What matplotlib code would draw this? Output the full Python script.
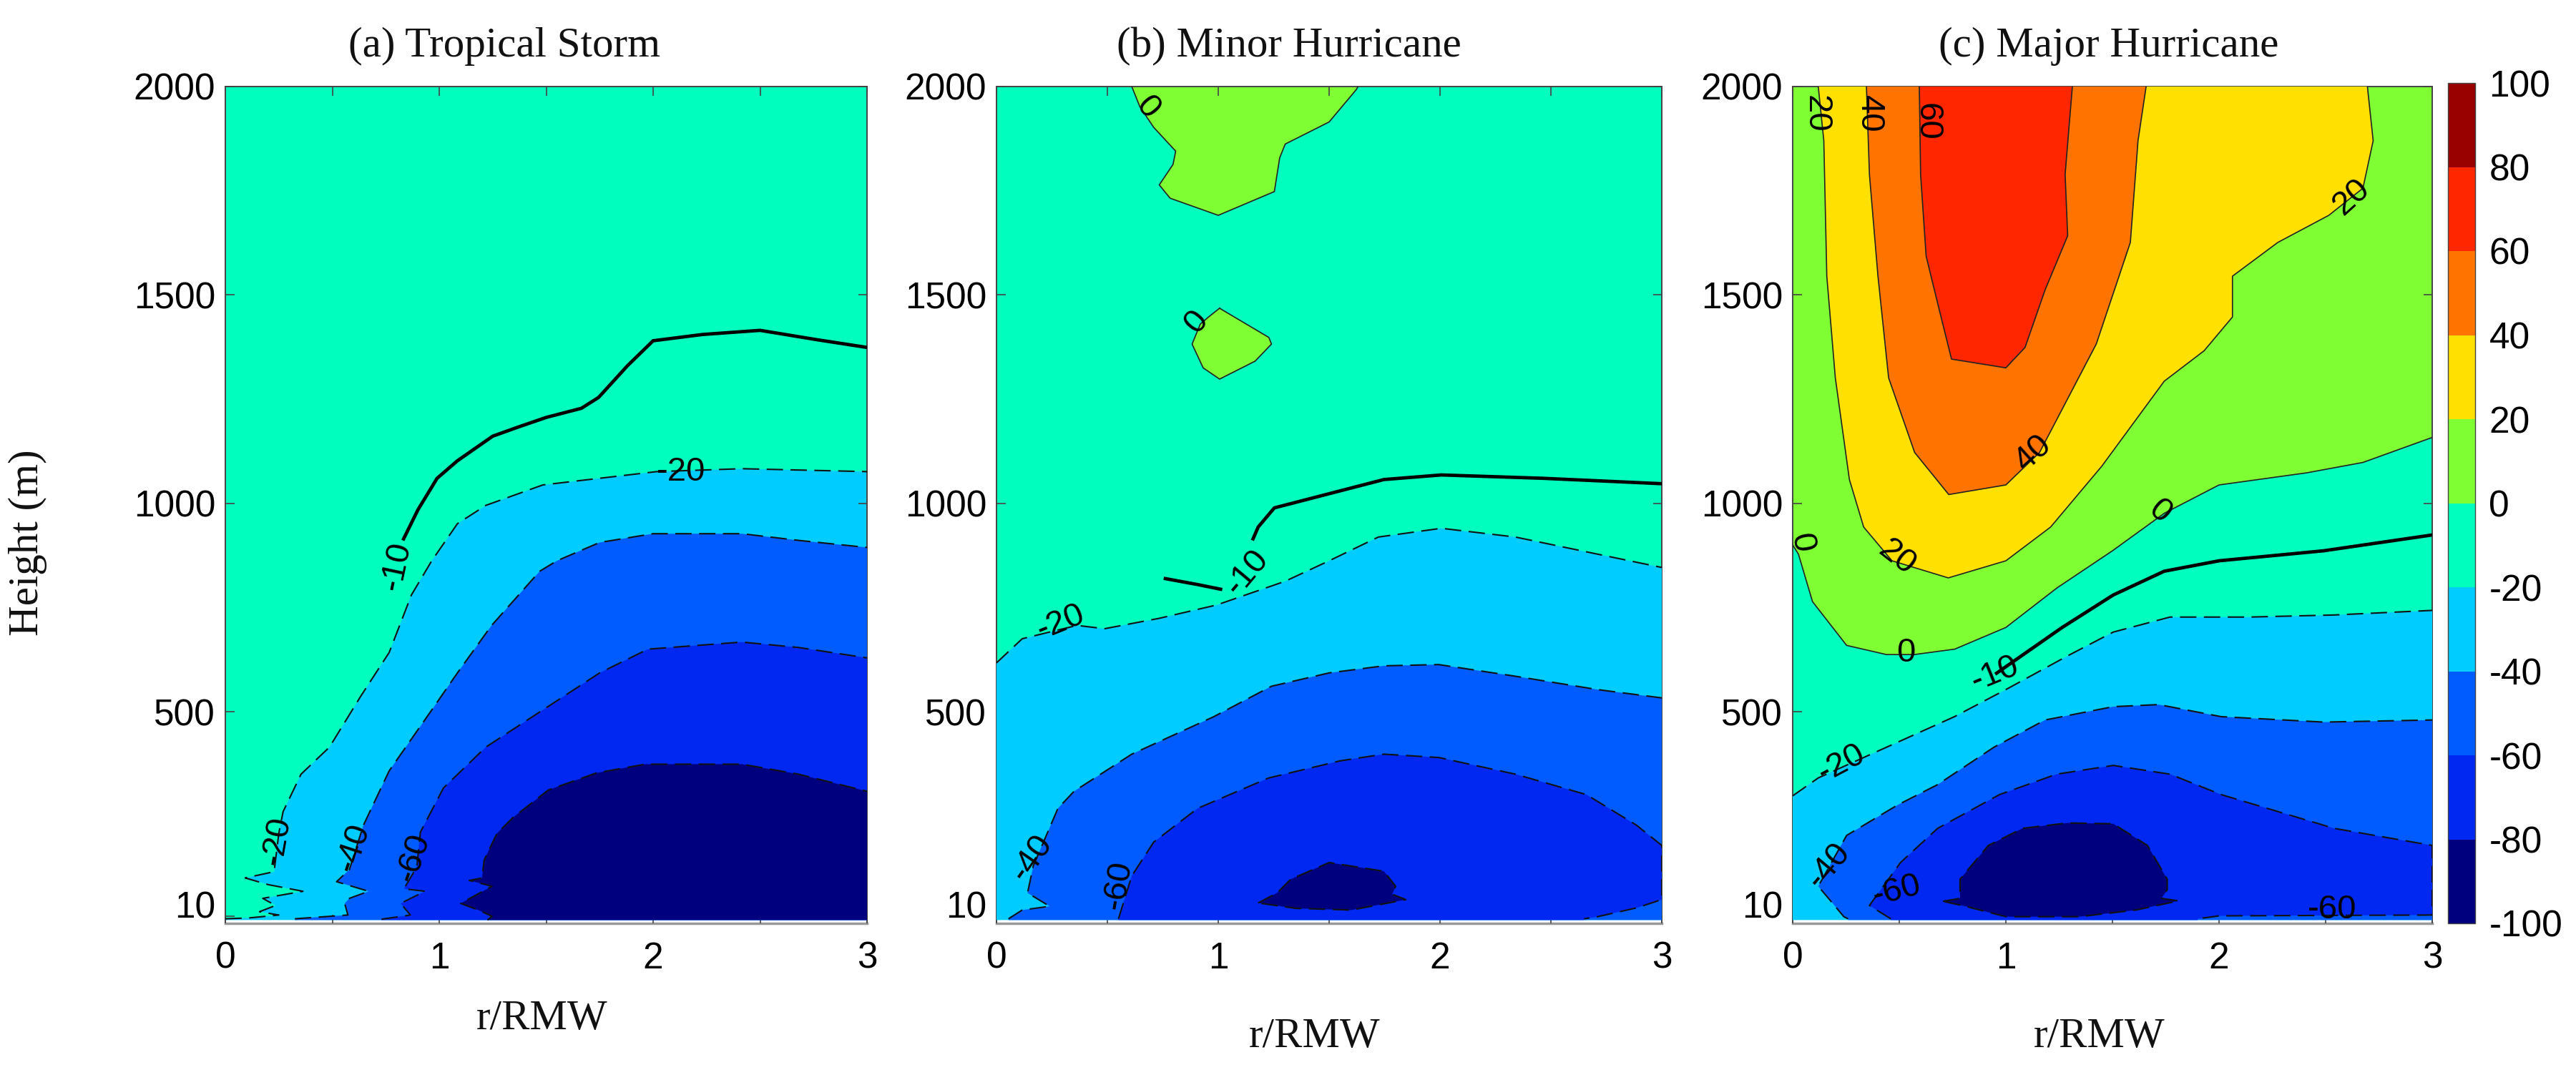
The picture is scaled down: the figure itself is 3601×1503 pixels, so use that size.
import numpy as np
import matplotlib
matplotlib.use("Agg")
import matplotlib.pyplot as plt
from matplotlib.colors import ListedColormap, BoundaryNorm
from matplotlib.cm import ScalarMappable
from matplotlib.transforms import ScaledTranslation

W, H = 3601, 1503
SERIF = "Liberation Serif"
SANS = "Liberation Sans"

levels = [-100, -80, -60, -40, -20, 0, 20, 40, 60, 80, 100]
colors = ["#00007F", "#0028F0", "#005CFF", "#00CCFF", "#00FFBF",
          "#7FFF33", "#FFE000", "#FF7300", "#FF2600", "#990000"]
lev_color = {lo: c for lo, c in zip(levels[:-1], colors)}

titles = ["(a) Tropical Storm", "(b) Minor Hurricane", "(c) Major Hurricane"]
y_ticks = [10, 500, 1000, 1500, 2000]
x_major = [0, 1, 2, 3]
x_minor = [0.5, 1.5, 2.5]

# ---------- panel (a) contours: r/RMW, height ----------
a_m10_r = [.83, .90, .99, 1.085, 1.25, 1.364, 1.5, 1.665, 1.745, 1.88, 2.0, 2.23, 2.5, 2.76, 3.0]
a_m10_h = [911, 984, 1060, 1102, 1161, 1182, 1206, 1228, 1254, 1330, 1390, 1405, 1415, 1393, 1374]
a_m20_r = [0, .11, .25, .16, .235, .175, .363, .2, .093, .228, .25, .27, .354, .487, .633, .766, .87, .965, 1.085, 1.218, 1.484, 1.75, 2.016, 2.415, 3]
a_m20_h = [3, 5, 12, 20, 35, 52, 69, 85, 101, 116, 208, 260, 350, 415, 537, 642, 780, 862, 951, 995, 1044, 1060, 1076, 1083, 1076]
a_m40_r = [.325, .573, .558, .58, .67, .52, .58, .646, .766, .965, 1.085, 1.245, 1.47, 1.55, 1.75, 2.0, 2.415, 2.68, 3]
a_m40_h = [3, 12, 40, 52, 69, 92, 121, 228, 358, 504, 593, 707, 837, 862, 906, 927, 927, 911, 894]
a_m60_r = [.73, .865, .82, .933, .835, .895, .912, 1.02, 1.218, 1.484, 1.75, 1.976, 2.415, 2.68, 3]
a_m60_h = [2, 12, 40, 69, 75, 127, 211, 317, 415, 504, 593, 650, 667, 654, 629]
a_m80_r = [1.225, 1.247, 1.187, 1.1, 1.247, 1.14, 1.2, 1.21, 1.27, 1.345, 1.51, 1.735, 1.963, 2.415, 2.68, 3]
a_m80_h = [0, 9, 23, 40, 81, 95, 101, 144, 208, 246, 312, 353, 374, 374, 350, 309]

# ---------- panel (b) contours ----------
b_0a_r = [.61, .647, .709, .808, .796, .734, .783, 1.0, 1.253, 1.277, 1.302, 1.5, 1.623, 1.63]
b_0a_h = [2000, 1951, 1902, 1845, 1813, 1764, 1732, 1691, 1748, 1829, 1862, 1915, 1993, 2000]
b_0b_r = [1.006, 1.228, 1.24, 1.166, 1.006, .932, .882, .919, .956, 1.006]
b_0b_h = [1468, 1398, 1382, 1341, 1298, 1325, 1382, 1430, 1447, 1468]
b_m10_r = [1.154, 1.18, 1.253, 1.747, 2.006, 2.463, 3]
b_m10_h = [911, 943, 989, 1057, 1068, 1060, 1047]
b_m10s_r = [.754, .907, 1.018]
b_m10s_h = [820, 805, 793]
b_m20_r = [0, .116, .363, .487, .734, .993, 1.302, 1.5, 1.722, 2.006, 2.34, 2.71, 3]
b_m20_h = [617, 675, 707, 699, 724, 756, 813, 862, 919, 940, 919, 878, 846]
b_m40_r = [.054, .116, .24, .14, .166, .277, .35, .61, .98, 1.24, 1.5, 1.747, 1.994, 2.34, 2.71, 3]
b_m40_h = [3, 24, 33, 65, 130, 268, 309, 398, 488, 561, 593, 610, 613, 585, 553, 533]
b_m60_r = [.55, .61, .709, .907, 1.228, 1.55, 1.747, 1.994, 2.34, 2.66, 2.885, 3, 3, 2.885, 2.71, 2.65]
b_m60_h = [3, 106, 187, 268, 341, 382, 398, 390, 350, 301, 228, 179, 49, 29, 8, 3]
b_m80_r = [1.18, 1.265, 1.327, 1.5, 1.747, 1.8, 1.784, 1.846, 1.6, 1.35, 1.18]
b_m80_h = [41, 65, 98, 138, 117, 81, 62, 49, 24, 28, 41]

# ---------- panel (c) contours ----------
c_0_r = [0, .027, .093, .253, .44, .57, .76, 1.0, 1.24, 1.5, 1.743, 2.0, 2.41, 2.675, 3]
c_0_h = [900, 878, 764, 659, 637, 637, 650, 702, 797, 886, 976, 1044, 1073, 1098, 1158]
c_20_r = [.12, .146, .16, .2, .266, .333, .466, .73, 1.0, 1.21, 1.45, 1.743, 1.93, 2.063, 2.063, 2.276, 2.515, 2.675, 2.723, 2.696]
c_20_h = [2000, 1870, 1545, 1301, 1057, 943, 862, 821, 862, 943, 1089, 1293, 1366, 1447, 1545, 1626, 1691, 1756, 1870, 2000]
c_40_r = [.346, .36, .4, .45, .572, .732, 1.0, 1.158, 1.424, 1.584, 1.62, 1.658]
c_40_h = [2000, 1789, 1545, 1301, 1122, 1021, 1044, 1122, 1382, 1626, 1870, 2000]
c_60_r = [.594, .6, .626, .68, .745, 1.0, 1.09, 1.184, 1.29, 1.278, 1.312]
c_60_h = [2000, 1789, 1593, 1480, 1346, 1325, 1374, 1512, 1642, 1789, 2000]
c_m10_r = [.95, 1.065, 1.264, 1.504, 1.743, 2.0, 2.49, 3]
c_m10_h = [590, 631, 702, 780, 837, 862, 886, 924]
c_m20_r = [0, .12, .333, .759, 1.0, 1.29, 1.504, 1.77, 2.143, 2.54, 3]
c_m20_h = [298, 341, 390, 488, 553, 634, 691, 727, 727, 732, 743]
c_m40_r = [.26, .24, .173, .12, .253, .492, .68, .945, 1.184, 1.504, 1.717, 2.01, 2.49, 3]
c_m40_h = [3, 8, 49, 81, 203, 276, 325, 415, 480, 512, 517, 488, 475, 480]
c_m60_r = [.46, .36, .506, .68, .97, 1.238, 1.504, 1.77, 2.01, 2.54, 3, 3, 2.0, 1.9]
c_m60_h = [3, 35, 138, 220, 301, 350, 371, 350, 301, 220, 179, 12, 10, 3]
c_m80_r = [.705, .785, .785, .918, 1.078, 1.29, 1.504, 1.664, 1.757, 1.757, 1.73, 1.81, 1.61, 1.344, 1.0, .81, .705]
c_m80_h = [45, 52, 98, 179, 220, 233, 231, 179, 98, 73, 52, 46, 24, 8, 8, 33, 45]

# contour labels: r, height, text, rotation
a_labels = [(.80, 850, "-10", 78), (2.13, 1075, "-20", 0), (.24, 190, "-20", 80),
            (.60, 175, "-40", 72), (.88, 150, "-60", 72)]
b_labels = [(.68, 1950, "0", -50), (.90, 1435, "0", 50), (1.13, 835, "-10", 50),
            (.29, 715, "-20", 22), (.16, 150, "-40", 55), (.55, 85, "-60", 80)]
c_labels = [(.11, 1935, "20", -90), (.36, 1935, "40", -90), (.63, 1915, "60", -90),
            (1.13, 1120, "40", 42), (2.62, 1735, "20", 42), (1.72, 980, "0", -40),
            (.04, 905, "0", -80), (.49, 870, "20", -38), (.53, 640, "0", 0),
            (.95, 590, "-10", 22), (.23, 375, "-20", 28), (.17, 130, "-40", 50),
            (.49, 70, "-60", 15), (2.53, 25, "-60", 0)]

fig = plt.figure(figsize=(W / 100, H / 100), dpi=100, facecolor="white")


def make_ax(x0, x1, y0, y1):
    return fig.add_axes([x0 / W, 1 - y1 / H, (x1 - x0) / W, (y1 - y0) / H])


def style(ax, title, title_xy, xlab_xy):
    ax.set_xlim(0, 3)
    ax.set_ylim(-8, 2000)
    ax.set_xticks(x_major)
    ax.set_xticks(x_minor, minor=True)
    ax.set_yticks(y_ticks)
    ax.set_yticklabels([str(t) for t in y_ticks], family=SANS, fontsize=37)
    ax.set_xticklabels([str(t) for t in x_major], family=SANS, fontsize=37)
    ax.tick_params(axis="both", which="both", direction="in", top=True, right=True,
                   length=9, width=1.2, color="#444444")
    ax.tick_params(axis="x", which="major", pad=18)
    ax.tick_params(axis="y", which="major", pad=10)
    off = ScaledTranslation(0, 16 / 100, fig.dpi_scale_trans)
    lab = ax.get_yticklabels()[0]
    lab.set_transform(lab.get_transform() + off)
    for s in ax.spines.values():
        s.set_linewidth(1.4)
        s.set_color("#444444")
    ax.spines["bottom"].set_color("#999999")
    ax.spines["bottom"].set_linewidth(2.5)
    ax.set_axisbelow(False)
    fig.text(title_xy[0] / W, 1 - title_xy[1] / H, title, family=SERIF, fontsize=42.5,
             ha="center", va="center", color="#111111")
    fig.text(xlab_xy[0] / W, 1 - xlab_xy[1] / H, "r/RMW", family=SERIF, fontsize=42.5,
             ha="center", va="center", color="#111111")


def bg(ax):
    ax.axhspan(0, 2000, color=lev_color[-20], lw=0, zorder=1)


def below(ax, r, h, lo, z):
    ax.fill(np.r_[r, r[-1], r[0]], np.r_[h, 0, 0], color=lev_color[lo], lw=0, zorder=z)


def closed(ax, r, h, lo, z):
    ax.fill(r, h, color=lev_color[lo], lw=0, zorder=z)


def line(ax, r, h, kind="dash"):
    if kind == "dash":
        ax.plot(r, h, color="#111111", lw=1.5, dashes=(11, 5), zorder=10, clip_on=True)
    elif kind == "thin":
        ax.plot(r, h, color="#222222", lw=1.2, zorder=10)
    else:
        ax.plot(r, h, color="black", lw=3.4, zorder=10, solid_capstyle="butt")


def labels(ax, items):
    for r, h, t, rot in items:
        ax.text(r, h, t, family=SANS, fontsize=34, rotation=rot, ha="center", va="center",
                rotation_mode="anchor", color="black", zorder=12, clip_on=False)


# panel (a)
ax = make_ax(315, 1212, 121, 1291)
bg(ax)
for i, (r, h, lo) in enumerate([(a_m20_r, a_m20_h, -40), (a_m40_r, a_m40_h, -60),
                                (a_m60_r, a_m60_h, -80), (a_m80_r, a_m80_h, -100)]):
    below(ax, r, h, lo, 2 + i)
    line(ax, r, h)
line(ax, a_m10_r, a_m10_h, "thick")
labels(ax, a_labels)
style(ax, titles[0], (705, 65), (758, 1425))
ax.set_ylabel("Height (m)", family=SERIF, fontsize=42.5, labelpad=0, color="#111111")
ax.yaxis.set_label_coords((66 - 315) / (1212 - 315), 0.455)

# panel (b)
ax = make_ax(1393, 2323, 121, 1291)
bg(ax)
closed(ax, b_0a_r, b_0a_h, 0, 2)
closed(ax, b_0b_r, b_0b_h, 0, 2)
line(ax, b_0a_r, b_0a_h, "thin")
line(ax, b_0b_r, b_0b_h, "thin")
for i, (r, h, lo) in enumerate([(b_m20_r, b_m20_h, -40), (b_m40_r, b_m40_h, -60),
                                (b_m60_r, b_m60_h, -80)]):
    below(ax, r, h, lo, 3 + i)
    line(ax, r, h)
closed(ax, b_m80_r, b_m80_h, -100, 7)
line(ax, b_m80_r, b_m80_h)
line(ax, b_m10_r, b_m10_h, "thick")
line(ax, b_m10s_r, b_m10s_h, "thick")
labels(ax, b_labels)
style(ax, titles[1], (1802, 65), (1838, 1450))

# panel (c)
ax = make_ax(2506, 3400, 121, 1291)
bg(ax)
ax.fill(np.r_[c_0_r, 3, 0], np.r_[c_0_h, 2000, 2000], color=lev_color[0], lw=0, zorder=2)
line(ax, c_0_r, c_0_h, "thin")
for i, (r, h, lo) in enumerate([(c_20_r, c_20_h, 20), (c_40_r, c_40_h, 40), (c_60_r, c_60_h, 60)]):
    closed(ax, r, h, lo, 3 + i)
    line(ax, r, h, "thin")
for i, (r, h, lo) in enumerate([(c_m20_r, c_m20_h, -40), (c_m40_r, c_m40_h, -60),
                                (c_m60_r, c_m60_h, -80)]):
    below(ax, r, h, lo, 3 + i)
    line(ax, r, h)
closed(ax, c_m80_r, c_m80_h, -100, 7)
line(ax, c_m80_r, c_m80_h)
line(ax, c_m10_r, c_m10_h, "thick")
labels(ax, c_labels)
style(ax, titles[2], (2948, 65), (2935, 1450))

# colorbar
cax = make_ax(3422, 3460, 116, 1291)
norm = BoundaryNorm(levels, len(colors))
sm = ScalarMappable(norm=norm, cmap=ListedColormap(colors))
cb = fig.colorbar(sm, cax=cax, ticks=levels, spacing="uniform", drawedges=False)
cb.ax.tick_params(length=0, pad=14)
cb.ax.set_yticklabels([str(t) for t in levels], family=SANS, fontsize=37)
cb.outline.set_linewidth(1.0)
cb.outline.set_edgecolor("#444444")

fig.savefig("out.png", dpi=100, facecolor="white")
